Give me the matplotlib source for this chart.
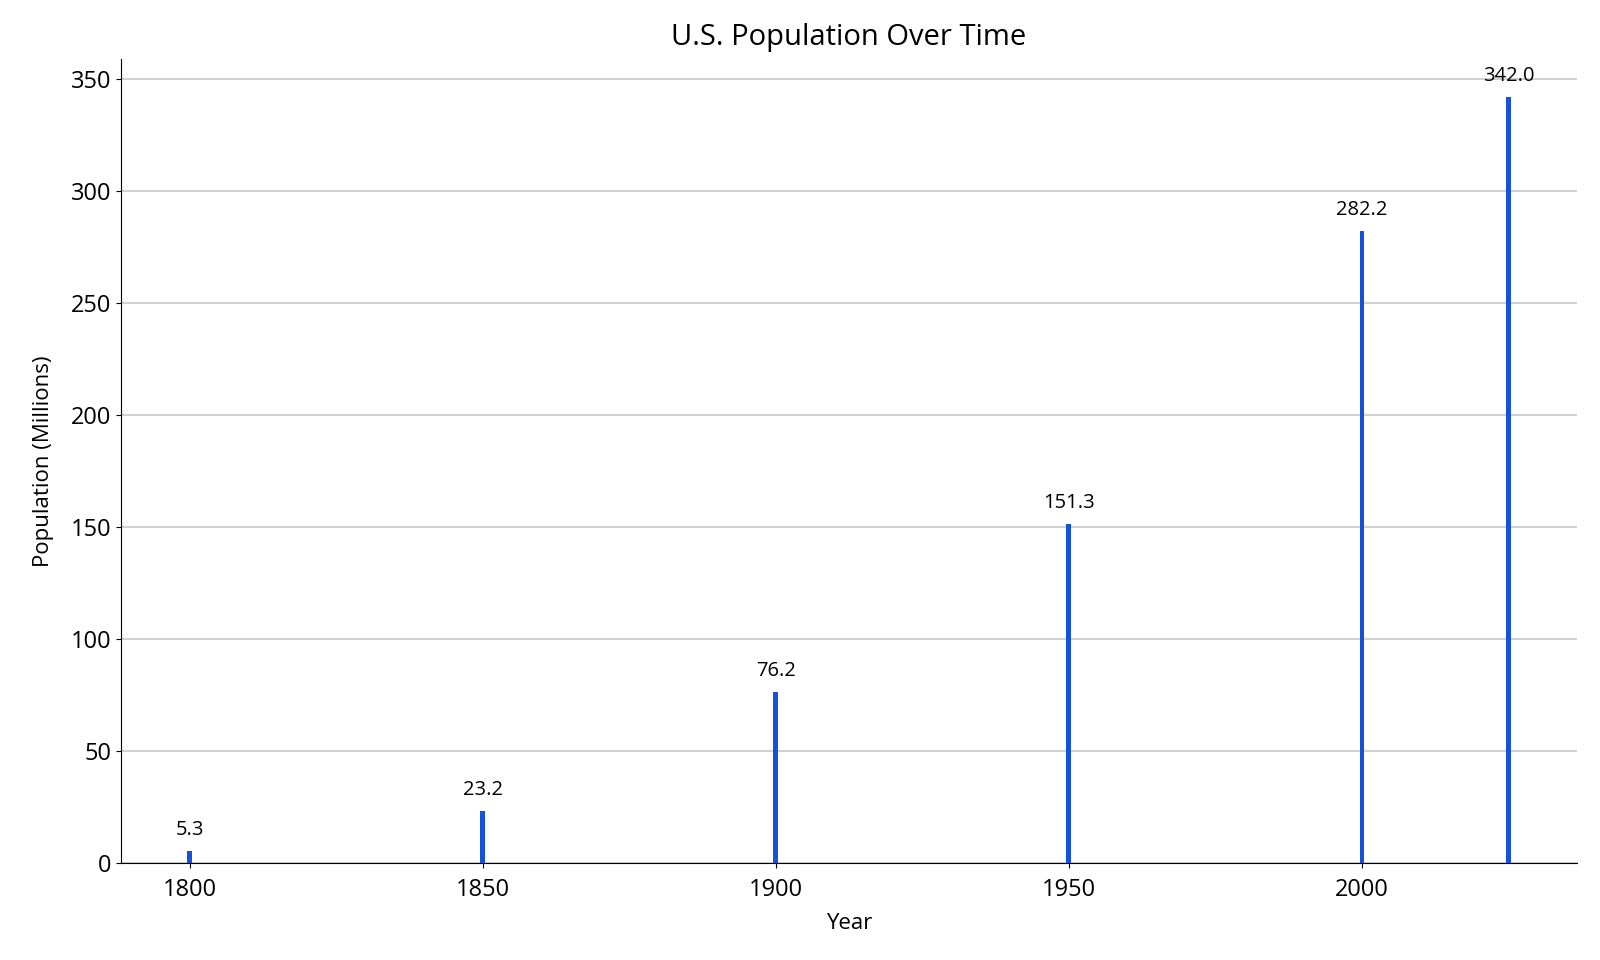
import matplotlib
matplotlib.use("Agg")
import matplotlib.pyplot as plt

# dados
anos = [1800, 1850, 1900, 1950, 2000, 2025]
populacao = [5.3, 23.2, 76.2, 151.3, 282.2, 342.0]

plt.rcParams['font.family'] = ['Open Sans', 'DejaVu Sans']

fig = plt.figure(figsize=(16, 9.6), dpi=100)
ax = fig.add_axes([121 / 1600, 1 - 863 / 960, (1577 - 121) / 1600, (863 - 59) / 960])

barras = ax.bar(anos, populacao, width=0.8, color='#1652d8', zorder=3)
for b, v in zip(barras, populacao):
    ax.annotate(f"{v:.1f}", (b.get_x() + b.get_width() / 2, v),
                xytext=(0, 8), textcoords='offset points',
                ha='center', va='bottom', fontsize=14.5)

ax.set_title('U.S. Population Over Time', fontsize=21, pad=10)
ax.set_xlabel('Year', fontsize=16, labelpad=8)
ax.set_ylabel('Population (Millions)', fontsize=16, labelpad=12)
ax.tick_params(labelsize=17)
ax.tick_params(axis='x', pad=7)
ax.yaxis.grid(True, color='#c8c8c8', linewidth=1.2, zorder=0)
ax.set_axisbelow(True)
ax.spines['top'].set_visible(False)
ax.spines['right'].set_visible(False)

fig.savefig('out.png', dpi=100)
